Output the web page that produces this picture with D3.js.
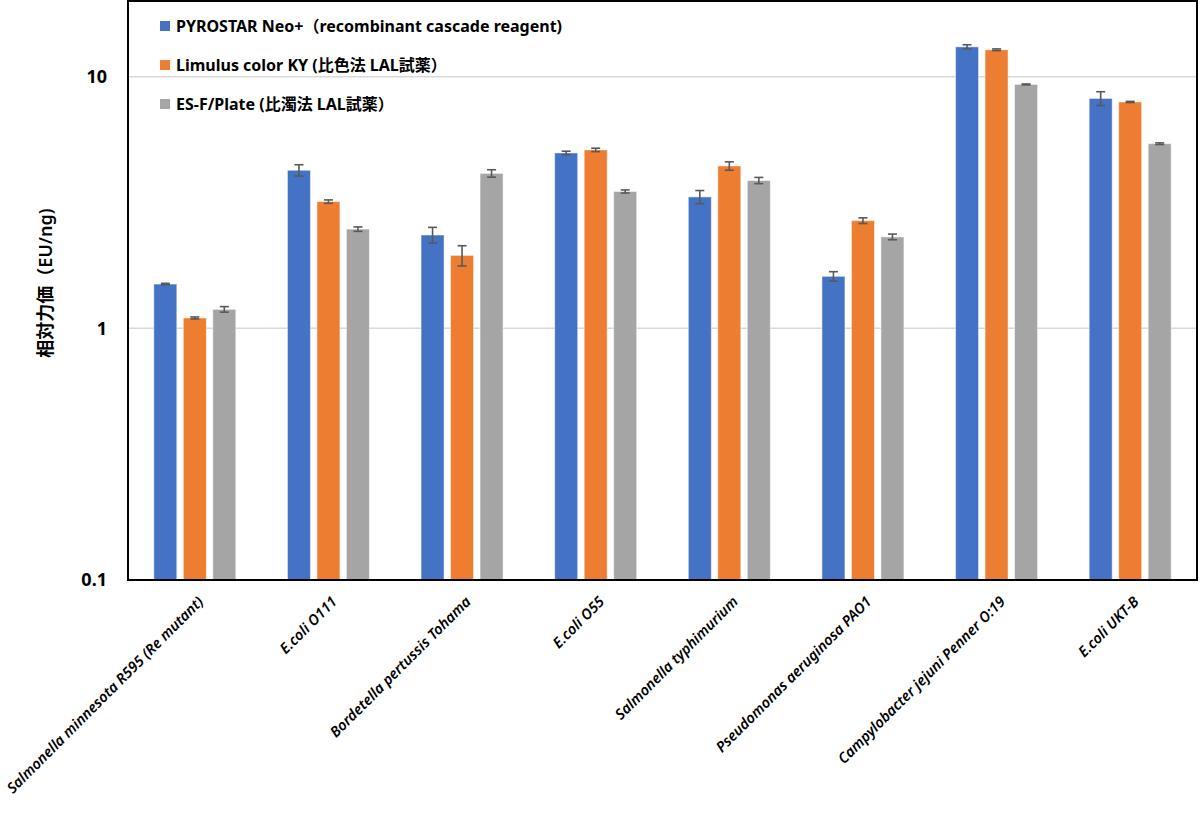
<!DOCTYPE html>
<html>
<head>
<meta charset="utf-8">
<script src="https://cdn.jsdelivr.net/npm/d3@7"></script>
<style>
  body { margin: 0; background: #fff; }
  text { font-family: "Noto Sans", "Open Sans", "Noto Sans CJK JP", sans-serif; }
</style>
</head>
<body>
<script>
// categories (strains)
const strains = [
  "Salmonella minnesota R595 (Re mutant)",
  "E.coli O111",
  "Bordetella pertussis Tohama",
  "E.coli O55",
  "Salmonella typhimurium",
  "Pseudomonas aeruginosa PAO1",
  "Campylobacter jejuni Penner O:19",
  "E.coli UKT-B"
]

const seriesNames = [
  "PYROSTAR Neo+（recombinant cascade reagent)",
  "Limulus color KY (比色法 LAL試薬）",
  "ES-F/Plate (比濁法 LAL試薬）"
]
const colors = ["#4472C4", "#ED7D31", "#A5A5A5"]

// relative potency values (EU/ng)
const pyrostar = [1.50, 4.25, 2.35, 4.98, 3.33, 1.61, 13.15, 8.20]
const limulusKY = [1.10, 3.19, 1.95, 5.12, 4.42, 2.68, 12.80, 7.94]
const esfPlate = [1.19, 2.48, 4.13, 3.50, 3.87, 2.31, 9.32, 5.42]

// error bars (+/-)
const pyrostarErr = [0.01, 0.22, 0.17, 0.08, 0.20, 0.07, 0.25, 0.52]
const limulusKYErr = [0.01, 0.05, 0.18, 0.08, 0.17, 0.07, 0.10, 0.04]
const esfPlateErr = [0.03, 0.05, 0.14, 0.05, 0.11, 0.06, 0.04, 0.04]

const yTicks = [0.1, 1, 10]

const allValues = [pyrostar, limulusKY, esfPlate]
const allErrs = [pyrostarErr, limulusKYErr, esfPlateErr]

const W = 1200, H = 818
const mLeft = 128, mRight = 1197, mTop = 1, mBottom = 580

const svg = d3.select("body").append("svg")
  .attr("width", W).attr("height", H)

const x = d3.scaleBand().domain(strains).range([mLeft, mRight])
// three bars take ~82px in the middle of each band
const inner = 82
const xInner = d3.scaleBand().domain([0, 1, 2])
  .range([(x.bandwidth() - inner) / 2, (x.bandwidth() + inner) / 2]).paddingInner(0.22)

const y = d3.scaleLog().domain([0.1, 20]).range([mBottom, mTop])

// gridlines
svg.append("g").selectAll("line").data(yTicks.slice(1)).join("line")
  .attr("x1", mLeft).attr("x2", mRight)
  .attr("y1", d => y(d)).attr("y2", d => y(d))
  .attr("stroke", "#d9d9d9").attr("stroke-width", 1.5)

// bars
const groups = svg.append("g").selectAll("g").data(strains).join("g")
  .attr("transform", d => "translate(" + x(d) + ",0)")

groups.each(function (s, i) {
  const g = d3.select(this)
  for (let k = 0; k < 3; k++) {
    const v = allValues[k][i]
    const e = allErrs[k][i]
    const bx = xInner(k)
    const bw = xInner.bandwidth()
    g.append("rect")
      .attr("x", bx).attr("y", y(v))
      .attr("width", bw).attr("height", mBottom - y(v))
      .attr("fill", colors[k])
      .attr("stroke", "#ffffff").attr("stroke-opacity", 0.5).attr("stroke-width", 1)
    const cx = bx + bw / 2
    const eg = g.append("g").attr("stroke", "#595959").attr("stroke-width", 1.6)
    eg.append("line").attr("x1", cx).attr("x2", cx).attr("y1", y(v + e)).attr("y2", y(v - e))
    eg.append("line").attr("x1", cx - 4.5).attr("x2", cx + 4.5).attr("y1", y(v + e)).attr("y2", y(v + e))
    eg.append("line").attr("x1", cx - 4.5).attr("x2", cx + 4.5).attr("y1", y(v - e)).attr("y2", y(v - e))
  }
})

// frame
svg.append("rect")
  .attr("x", mLeft).attr("y", mTop)
  .attr("width", mRight - mLeft).attr("height", mBottom - mTop)
  .attr("fill", "none").attr("stroke", "#000").attr("stroke-width", 2)

// y tick labels
svg.append("g").selectAll("text").data(yTicks).join("text")
  .attr("x", 107).attr("y", d => y(d))
  .attr("dy", "0.35em")
  .attr("text-anchor", "end")
  .attr("font-size", 18).attr("font-weight", "bold")
  .text(d => d)

// y axis title
svg.append("text")
  .attr("transform", "translate(46,283) rotate(-90)")
  .attr("text-anchor", "middle")
  .attr("dy", "0.35em")
  .attr("font-size", 18).attr("font-weight", 600)
  .text("相対力価（EU/ng)")

// x labels
svg.append("g").selectAll("text").data(strains).join("text")
  .attr("transform", d => "translate(" + (x(d) + x.bandwidth() / 2 + 6) + ",599) rotate(-45)")
  .attr("text-anchor", "end")
  .attr("dy", "0.35em")
  .attr("font-size", 14.6).attr("font-style", "italic").attr("font-weight", 600)
  .text(d => d)

// legend
const legend = svg.append("g").selectAll("g").data(seriesNames).join("g")
  .attr("transform", (d, i) => "translate(160," + (26 + i * 39) + ")")
legend.append("rect")
  .attr("x", 0).attr("y", -5).attr("width", 10).attr("height", 10)
  .attr("fill", (d, i) => colors[i])
legend.append("text")
  .attr("x", 16).attr("dy", "0.35em")
  .attr("font-size", 16).attr("font-weight", "bold")
  .text(d => d)
</script>
</body>
</html>
